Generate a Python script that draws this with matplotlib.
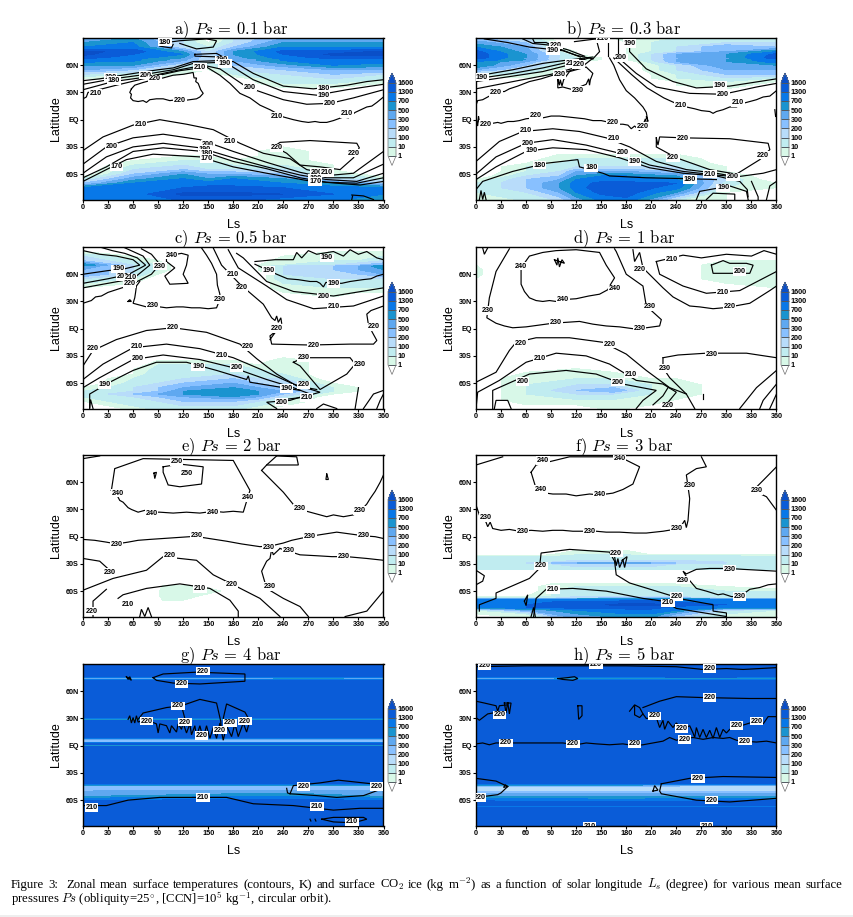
#%%
import numpy as np
import matplotlib
matplotlib.use('Agg')
import matplotlib.pyplot as plt
from matplotlib.cm import ScalarMappable
from matplotlib.colors import BoundaryNorm, ListedColormap

#%% colour scale (kg m-2)
ICE_LEVELS = [1, 10, 100, 200, 300, 500, 700, 1300, 1600]
ICE_LABELS = ['1', '10', '100', '200', '300', '500', '700', '1300', '1600']
ICE_COLORS = ['#d8f8e8', '#c0ecf0', '#b8dcfa', '#88c0ff', '#5fa8f0', '#1a94d0', '#0878e8', '#0a5cd8']
ICE_OVER = '#0a4fc8'
LS_TICKS = list(range(0, 361, 30))
LAT_TICKS = [60, 30, 0, -30, -60]
LAT_LABELS = ['60N', '30N', 'EQ', '30S', '60S']

#%% panel a
TITLE_A = r'a) $Ps$ = 0.1 bar'
LS_A = [0, 60, 120, 150, 180, 240, 300, 360]
LAT_A = [90, 85, 80, 75, 72, 68, 67, 66, 65, 60, 55, 50, 45, 40, 35, 30, -25, -30, -35, -40, -45, -50, -55, -60, -65, -70, -75, -82, -90]
ICE_A = [[500, 500, 100, 0, 100, 300, 500, 500],
         [500, 700, 100, 1, 100, 500, 500, 500],
         [700, 1000, 100, 10, 200, 700, 700, 700],
         [1700, 1500, 500, 100, 500, 1400, 1400, 1700],
         [1700, 1300, 700, 100, 500, 1300, 1700, 1700],
         [1400, 1000, 500, 100, 400, 1000, 1400, 1400],
         [500, 500, 200, 50, 200, 500, 500, 500],
         [1300, 900, 400, 100, 300, 800, 1300, 1300],
         [1000, 800, 300, 100, 300, 700, 1300, 1000],
         [500, 500, 100, 10, 200, 400, 700, 600],
         [300, 200, 10, 1, 100, 200, 300, 300],
         [100, 10, 1, 0, 10, 100, 200, 100],
         [1, 1, 0, 0, 0, 100, 100, 10],
         [0, 1, 0, 0, 0, 10, 10, 1],
         [0, 0, 0, 0, 0, 1, 1, 0],
         [0, 0, 0, 0, 0, 0, 0, 0],
         [0, 0, 0, 0, 0, 0, 0, 0],
         [0, 0, 0, 0, 0, 1, 0, 0],
         [0, 0, 0, 0, 0, 10, 0, 0],
         [0, 0, 1, 1, 0, 10, 0, 0],
         [0, 1, 10, 10, 1, 10, 0, 0],
         [0, 10, 100, 50, 10, 10, 1, 0],
         [0, 100, 200, 100, 100, 100, 1, 0],
         [0, 200, 500, 300, 300, 200, 10, 0],
         [10, 400, 700, 500, 700, 500, 100, 10],
         [200, 700, 1000, 1000, 1000, 700, 500, 200],
         [700, 1000, 1300, 1400, 1400, 1300, 1000, 700],
         [700, 1000, 1700, 1700, 1700, 1600, 1300, 700],
         [700, 1000, 1300, 1300, 1300, 700, 700, 700]]
LINES_A = [
    [(0, 43), (20, 45), (40, 48), (68, 52), (90, 55), (108, 57), (132, 64), (160, 65), (180, 64), (204, 51), (240, 37), (276, 34), (316, 38), (340, 42), (360, 44)],
    [(0, 39), (36, 45), (68, 49), (108, 55), (132, 62), (160, 63), (176, 60), (204, 44), (240, 31), (280, 27), (316, 33), (360, 39)],
    [(0, 33), (36, 42), (76, 47), (116, 55), (144, 60), (164, 56), (196, 36), (240, 22), (268, 17), (296, 18), (324, 24), (360, 33)],
    [(0, 23), (4, 25), (6, 30), (40, 38), (72, 45), (116, 54), (148, 58), (164, 49), (176, 40), (188, 29), (200, 24), (212, 16), (224, 11), (232, 7), (240, 3), (252, 0), (262, -2), (270, -3), (278, -2), (284, -3), (292, -3), (300, -1), (312, 3), (318, 2), (326, 8), (340, 14), (346, 15), (352, 19), (360, 25)],
    [(58, 34), (62, 38), (72, 41), (84, 44), (96, 46), (108, 49), (120, 50), (132, 52), (133, 46), (136, 46), (135, 42), (138, 40), (141, 33), (144, 29), (140, 25), (136, 23), (128, 22), (120, 21), (112, 22), (104, 21), (96, 23), (88, 23), (80, 22), (76, 19), (72, 21), (66, 20), (60, 21), (57, 24), (58, 28), (56, 30), (58, 34)],
    [(92, 84), (116, 87), (148, 89), (160, 87), (156, 80), (136, 78), (116, 84)],
    [(92, 81), (106, 79), (108, 83)],
    [(134, 72), (160, 73), (168, 69), (134, 70), (134, 72)],
    [(322, -83), (336, -84), (348, -88)],
    [(322, -88), (323, -84)],
    [(0, -34), (24, -19), (60, -6), (92, 0), (124, -5), (156, -11), (188, -26), (216, -37), (248, -43), (268, -55), (300, -61), (324, -59), (360, -35)],
    [(0, -49), (28, -30), (60, -20), (96, -16), (140, -22), (180, -35), (220, -47), (260, -58), (292, -64), (324, -64), (360, -49)],
    [(0, -59), (28, -41), (60, -30), (96, -26), (140, -31), (180, -42), (220, -52), (260, -61), (292, -66), (328, -68), (360, -59)],
    [(0, -64), (28, -52), (60, -35), (96, -31), (144, -35), (180, -46), (220, -54), (260, -64), (292, -69), (328, -70), (360, -64)],
    [(0, -68), (28, -55), (52, -44), (84, -38), (140, -41), (180, -52), (220, -59), (268, -67), (304, -70), (332, -72), (360, -68)],
    [(228, -30), (236, -25), (272, -23), (328, -26), (331, -31), (324, -42), (308, -55), (284, -52), (260, -50), (244, -37), (236, -33), (228, -30)],
]
LABELS_A = [(98, 85.5, '180'), (166, 66, '190'), (170, 62, '190'), (140, 58, '210'), (33, 47, '190'), (37, 43, '180'), (75, 49, '200'), (86, 45, '220'), (15, 29, '210'), (200, 36, '200'), (116, 21, '220'),
            (288, 34, '180'), (288, 27, '190'), (296, 18, '200'), (316, 7, '210'), (232, 4, '210'), (69, -5, '210'), (176, -24, '210'), (34, -30, '200'), (150, -27, '200'), (146, -33, '190'), (148, -37, '180'), (148, -43, '170'), (40, -52, '170'),
            (232, -31, '220'), (324, -37, '220'), (280, -58, '200'), (292, -58, '210'), (278, -65, '190'), (278, -68, '170')]

#%% panel b
TITLE_B = r'b) $Ps$ = 0.3 bar'
LS_B = [0, 60, 100, 120, 150, 180, 240, 300, 360]
LAT_B = [90, 85, 80, 75, 72, 68, 67, 66, 64, 60, 55, 50, 46, 42, 38, 34, 30, -28, -33, -38, -43, -48, -52, -57, -62, -66, -70, -75, -80, -90]
ICE_B = [[200, 100, 0, 0, 0, 10, 10, 100, 100],
         [400, 200, 1, 0, 0, 1, 100, 100, 100],
         [700, 300, 1, 0, 0, 1, 100, 300, 200],
         [1400, 400, 10, 1, 0, 1, 100, 300, 700],
         [1500, 500, 100, 1, 1, 1, 300, 500, 1400],
         [1500, 500, 100, 10, 1, 1, 300, 500, 1500],
         [500, 300, 50, 5, 1, 1, 200, 300, 500],
         [1300, 500, 100, 5, 1, 1, 300, 500, 1300],
         [700, 300, 10, 1, 1, 0, 300, 500, 1000],
         [700, 200, 10, 1, 0, 0, 100, 500, 500],
         [300, 100, 1, 0, 0, 0, 100, 300, 300],
         [10, 10, 1, 0, 0, 0, 10, 200, 200],
         [0, 1, 0, 0, 0, 0, 10, 100, 10],
         [0, 1, 0, 0, 0, 0, 1, 10, 1],
         [0, 0, 0, 0, 0, 0, 1, 10, 0],
         [0, 0, 0, 0, 0, 0, 0, 1, 0],
         [0, 0, 0, 0, 0, 0, 0, 0, 0],
         [0, 0, 0, 0, 0, 0, 0, 0, 0],
         [0, 0, 0, 0, 0, 0, 1, 0, 0],
         [0, 0, 1, 1, 1, 1, 1, 0, 0],
         [0, 0, 10, 10, 10, 10, 10, 0, 0],
         [0, 1, 10, 50, 50, 50, 100, 0, 0],
         [0, 10, 100, 100, 100, 100, 100, 1, 0],
         [0, 10, 100, 300, 300, 300, 200, 1, 0],
         [0, 100, 200, 500, 700, 700, 500, 10, 0],
         [1, 200, 300, 700, 1000, 1000, 700, 100, 0],
         [10, 200, 500, 1000, 1400, 1400, 1300, 50, 1],
         [10, 200, 500, 1000, 1500, 1500, 1000, 10, 1],
         [10, 100, 300, 700, 1400, 1500, 500, 1, 1],
         [1, 10, 100, 300, 700, 1000, 10, 1, 1]]
LINES_B = [
    [(0, 48), (44, 55), (80, 62), (104, 65), (140, 69)],
    [(0, 45), (44, 51), (80, 57), (104, 62), (130, 67)],
    [(0, 42), (44, 48), (80, 53), (110, 60), (135, 68)],
    [(0, 34), (50, 43), (90, 50), (110, 55), (130, 60)],
    [(0, 16), (2, 21), (8, 22), (18, 27), (26, 31), (34, 31), (40, 34), (50, 37), (64, 42), (78, 45), (92, 49), (110, 53), (128, 59), (139, 67)],
    [(98, 45), (100, 38), (101, 44), (103, 37), (105, 44), (112, 53), (132, 58), (140, 51), (137, 44), (136, 38), (135, 45), (132, 39), (116, 33), (104, 36), (98, 35), (98, 45)],
    [(10, 89), (38, 85), (64, 80), (84, 78), (104, 76), (120, 71), (140, 67)],
    [(56, 89), (68, 84), (90, 82), (110, 77), (130, 70)],
    [(68, 89), (70, 85), (84, 85), (100, 78), (125, 69)],
    [(118, 86), (144, 89), (148, 75), (140, 67)],
    [(158, 89), (158, 70)], [(170, 89), (170, 72)],
    [(160, 68), (165, 60), (172, 44), (180, 32), (190, 24), (200, 14), (204, 8), (206, -2), (204, 3)],
    [(165, 68), (186, 50), (205, 35), (225, 24), (244, 16), (252, 14), (262, 12), (270, 10), (280, 9), (284, 7), (288, 9), (296, 11), (304, 14), (312, 14), (320, 18), (328, 20), (336, 22), (344, 25), (352, 26), (360, 32)],
    [(172, 67), (192, 51), (216, 36), (256, 29), (296, 28), (336, 36), (360, 40)],
    [(184, 88), (184, 75), (204, 56), (236, 42), (264, 35), (304, 37), (360, 45)],
    [(0, 3), (2, -7), (3, 4), (5, -8), (8, -5), (14, -6), (20, -4), (26, -3), (30, -4), (38, -2), (45, -2), (52, -1), (60, 1), (70, 2), (80, 2), (90, 4), (100, 4), (110, 3), (120, 2), (130, 1), (140, -1), (150, -1), (160, -3), (170, -5), (176, -5), (182, -6), (186, -10), (190, -7), (196, -12), (200, -6), (203, 1), (205, -8)],
    [(358, 11), (359, 3), (360, 6)],
    [(0, -46), (28, -24), (56, -13), (92, -10), (124, -13), (156, -20), (184, -30), (216, -46), (252, -55), (288, -59), (312, -63), (344, -59), (360, -55)],
    [(0, -60), (24, -41), (60, -26), (92, -22), (132, -28), (172, -37), (208, -50), (248, -57), (288, -61), (312, -63)],
    [(0, -66), (24, -52), (60, -35), (92, -31), (132, -33), (172, -42), (208, -53), (248, -59), (288, -62), (316, -68), (325, -77), (326, -85)],
    [(0, -77), (8, -68), (44, -57), (84, -48), (122, -44), (124, -52), (152, -59), (160, -62), (204, -64), (252, -65), (288, -66)],
    [(216, -20), (218, -28), (220, -19), (248, -20), (304, -21), (350, -26), (352, -33), (340, -44), (312, -60), (280, -55), (240, -42), (216, -30), (216, -20)],
    [(330, -68), (338, -85), (338, -88)], [(348, -88), (352, -73), (360, -68)],
    [(264, -88), (268, -79), (304, -73), (324, -79), (326, -88)],
    [(276, -88), (284, -81), (310, -82), (310, -88)],
    [(4, -88), (6, -78), (8, -88), (10, -80), (12, -88)],
]
LABELS_B = [(96, 82, '220'), (92, 76, '190'), (115, 62, '210'), (123, 61, '220'), (100, 50, '230'), (122, 32, '230'), (24, 30, '220'), (7, 47, '190'), (174, 68, '200'), (184, 84, '190'), (152, 89, '210'),
            (292, 38, '190'), (296, 28, '200'), (314, 19, '210'), (245, 16, '210'), (72, 5, '220'), (12, -5, '220'), (164, -3, '220'), (200, -7, '220'), (60, -12, '210'), (165, -21, '210'), (62, -26, '200'), (66, -34, '190'), (176, -36, '200'), (190, -46, '190'), (76, -50, '180'), (138, -53, '180'),
            (248, -21, '220'), (236, -42, '220'), (344, -39, '220'), (280, -60, '210'), (308, -63, '200'), (256, -66, '180'), (296, -75, '190')]

#%% panel c
TITLE_C = r'c) $Ps$ = 0.5 bar'
LS_C = [0, 60, 90, 120, 180, 210, 240, 300, 330, 360]
LAT_C = [90, 85, 80, 75, 70, 69, 65, 60, 55, 50, 45, 40, 35, 30, -28, -32, -35, -40, -45, -50, -55, -60, -65, -69, -72, -75, -80, -85, -90]
ICE_C = [[0, 0, 0, 0, 0, 0, 0, 0, 0, 0],
         [1, 0, 0, 0, 0, 0, 1, 1, 1, 1],
         [100, 1, 1, 0, 0, 0, 1, 10, 10, 10],
         [200, 10, 1, 0, 0, 0, 10, 10, 10, 100],
         [700, 100, 10, 0, 0, 1, 10, 100, 200, 300],
         [500, 100, 10, 0, 0, 1, 100, 200, 300, 700],
         [300, 100, 10, 0, 0, 1, 100, 200, 300, 500],
         [300, 100, 1, 0, 0, 0, 100, 200, 200, 300],
         [100, 10, 0, 0, 0, 0, 100, 100, 100, 100],
         [10, 1, 0, 0, 0, 0, 10, 100, 100, 50],
         [1, 0, 0, 0, 0, 0, 10, 10, 10, 10],
         [0, 0, 0, 0, 0, 0, 1, 10, 1, 1],
         [0, 0, 0, 0, 0, 0, 0, 1, 0, 0],
         [0, 0, 0, 0, 0, 0, 0, 0, 0, 0],
         [0, 0, 0, 0, 0, 0, 0, 0, 0, 0],
         [0, 0, 0, 0, 0, 0, 1, 0, 0, 0],
         [0, 0, 1, 1, 1, 0, 10, 0, 0, 0],
         [0, 0, 10, 10, 10, 1, 10, 0, 0, 0],
         [0, 1, 50, 50, 50, 10, 10, 0, 0, 0],
         [0, 1, 100, 100, 100, 50, 10, 0, 0, 0],
         [0, 10, 100, 100, 200, 100, 100, 0, 0, 0],
         [0, 50, 100, 200, 300, 200, 200, 1, 0, 0],
         [1, 100, 200, 300, 500, 300, 200, 10, 1, 0],
         [10, 100, 200, 500, 700, 500, 300, 10, 1, 0],
         [10, 200, 300, 500, 700, 500, 200, 1, 1, 0],
         [10, 100, 200, 300, 500, 300, 100, 0, 0, 0],
         [1, 100, 100, 200, 200, 100, 10, 0, 0, 0],
         [0, 10, 50, 100, 100, 10, 1, 0, 0, 0],
         [0, 1, 10, 10, 10, 1, 0, 0, 0, 0]]
LINES_C = [
    [(0, 60), (30, 64), (50, 66), (68, 70), (60, 76), (40, 80), (20, 82), (0, 86)],
    [(0, 50), (30, 55), (55, 60), (75, 70), (65, 78), (50, 83), (35, 86), (20, 90)],
    [(0, 45), (30, 50), (60, 55), (80, 70), (72, 80), (60, 85), (48, 90)],
    [(0, 28), (10, 31), (15, 35), (22, 36), (30, 40), (50, 46), (65, 52), (82, 60), (92, 71), (82, 82), (70, 88)],
    [(100, 80), (118, 83), (126, 81), (124, 70), (120, 60), (126, 50), (104, 49), (98, 58), (110, 67), (100, 74), (100, 80)],
    [(54, 30), (56, 32), (58, 30), (54, 30)],
    [(68, 52), (64, 47), (63, 40), (62, 34), (60, 28), (68, 26), (76, 24), (84, 25), (92, 24), (100, 23), (112, 24), (120, 24), (130, 23), (140, 23), (150, 22), (160, 23), (163, 30), (164, 38), (161, 48), (160, 60), (154, 72), (148, 81), (142, 89)],
    [(156, 89), (166, 70), (188, 49), (216, 27), (226, 12), (230, 9), (232, 14), (234, 7), (237, 12), (238, 6)],
    [(224, -12), (232, -2), (224, -8), (226, -17), (272, -18), (320, -17), (348, -17), (352, -13), (346, -3), (345, 4), (343, -2), (340, 16), (345, 20), (360, 25)],
    [(174, 87), (186, 67), (220, 47), (244, 32), (276, 22), (324, 25), (360, 36)],
    [(184, 83), (192, 78), (220, 52), (252, 41), (300, 36), (360, 45)],
    [(206, 74), (230, 76), (252, 76), (256, 84), (262, 78), (270, 86), (280, 82), (300, 85), (312, 80), (320, 87), (330, 82), (340, 85), (352, 78), (360, 76)],
    [(206, 71), (220, 65), (232, 60), (245, 55), (258, 54), (272, 52), (280, 52), (284, 50), (288, 46), (291, 51), (300, 50), (310, 50), (320, 52), (335, 54), (345, 55), (352, 58), (360, 60)],
    [(0, -41), (12, -24), (40, -12), (76, -2), (108, 1), (148, -4), (188, -17), (208, -33), (232, -50), (256, -63), (280, -67)],
    [(0, -56), (24, -39), (60, -21), (100, -17), (140, -22), (180, -32), (216, -46), (252, -61), (284, -70), (260, -76), (232, -79)],
    [(0, -65), (20, -54), (60, -34), (96, -29), (140, -34), (180, -43), (220, -56), (252, -65), (272, -72), (248, -79), (220, -81), (232, -88)],
    [(8, -87), (8, -72), (32, -59), (60, -46), (88, -37), (124, -37), (160, -46), (196, -56), (198, -52), (200, -59), (240, -65), (260, -68)],
    [(252, -37), (264, -32), (320, -32), (326, -39), (316, -50), (284, -67), (272, -54), (260, -41), (252, -37)],
    [(330, -65), (326, -88)], [(336, -88), (348, -72), (360, -68)], [(352, -88), (356, -79), (360, -72)],
    [(8, -88), (9, -78), (12, -88)],
    [(280, -88), (288, -83), (304, -88)],
]
LABELS_C = [(42, 66, '190'), (48, 57, '200'), (57, 56, '210'), (56, 50, '220'), (92, 69, '230'), (106, 81, '240'), (84, 25, '230'), (164, 32, '230'), (180, 60, '210'), (190, 45, '220'), (222, 64, '190'), (292, 78, '190'), (300, 50, '190'), (288, 35, '200'), (300, 24, '210'),
            (12, -22, '220'), (108, 1, '220'), (198, -20, '220'), (232, 0, '220'), (348, 2, '220'), (276, -18, '220'), (64, -20, '210'), (166, -30, '210'), (66, -33, '200'), (184, -43, '200'), (138, -42, '190'), (26, -62, '190'), (264, -32, '230'), (332, -39, '230'), (244, -66, '190'), (264, -62, '220'), (268, -76, '210'), (238, -81, '200')]

#%% panel d
TITLE_D = r'd) $Ps$ = 1 bar'
LS_D = [0, 15, 30, 60, 120, 165, 210, 240, 270, 300, 360]
LAT_D = [90, 75, 70, 65, 60, 55, 50, 45, 40, -40, -44, -48, -55, -62, -68, -72, -78, -84, -90]
ICE_D = [[0, 0, 0, 0, 0, 0, 0, 0, 0, 0, 0],
         [0, 0, 0, 0, 0, 0, 0, 0, 0, 1, 1],
         [1, 0, 0, 0, 0, 0, 0, 0, 1, 10, 10],
         [10, 0, 0, 0, 0, 0, 0, 1, 1, 10, 10],
         [10, 0, 0, 0, 0, 0, 0, 0, 1, 10, 10],
         [1, 0, 0, 0, 0, 0, 0, 0, 1, 10, 10],
         [1, 0, 0, 0, 0, 0, 0, 0, 0, 1, 10],
         [0, 0, 0, 0, 0, 0, 0, 0, 0, 0, 1],
         [0, 0, 0, 0, 0, 0, 0, 0, 0, 0, 0],
         [0, 0, 0, 0, 0, 0, 0, 0, 0, 0, 0],
         [0, 0, 0, 0, 1, 0, 0, 0, 0, 0, 0],
         [0, 0, 0, 1, 10, 1, 0, 0, 0, 0, 0],
         [0, 0, 1, 10, 10, 10, 1, 1, 0, 0, 0],
         [0, 0, 1, 10, 100, 100, 10, 10, 1, 0, 0],
         [0, 0, 1, 10, 200, 300, 10, 10, 1, 0, 0],
         [0, 0, 1, 10, 100, 100, 10, 10, 1, 0, 0],
         [0, 0, 1, 10, 10, 10, 10, 1, 0, 0, 0],
         [0, 0, 0, 1, 1, 10, 1, 0, 0, 0, 0],
         [0, 0, 0, 0, 1, 1, 0, 0, 0, 0, 0]]
LINES_D = [
    [(54, 67), (64, 80), (80, 84), (96, 86), (120, 87), (148, 84), (156, 70), (166, 56), (160, 47), (158, 43), (148, 38), (135, 36), (120, 33), (104, 32), (96, 30), (88, 31), (80, 30), (72, 31), (64, 34), (58, 41), (54, 49), (54, 67)],
    [(40, 88), (24, 63), (16, 34), (13, 12), (24, 6), (34, 3), (44, 1), (60, 2), (76, 4), (92, 6), (108, 7), (124, 8), (140, 5), (156, 3), (172, 2), (188, 0), (204, 1), (220, 3), (222, 10), (204, 25), (200, 47), (180, 60), (168, 85), (166, 88)],
    [(188, 87), (190, 74), (196, 84), (200, 67), (212, 56), (224, 45), (236, 35), (246, 30), (256, 25), (268, 24), (284, 22), (296, 23), (304, 24), (316, 26), (328, 28), (340, 35), (352, 42), (360, 47)],
    [(216, 74), (220, 60), (248, 47), (276, 39), (316, 42), (360, 63)],
    [(216, 74), (248, 81), (270, 78), (300, 82), (330, 80), (345, 86), (360, 82)],
    [(282, 70), (284, 61), (328, 61), (332, 70), (324, 72), (304, 72), (296, 75), (282, 70)],
    [(0, -59), (24, -48), (40, -24), (48, -15), (72, -10), (112, -10), (152, -15), (180, -28), (204, -46), (232, -65), (252, -72)],
    [(0, -88), (2, -70), (28, -57), (60, -37), (96, -27), (132, -30), (160, -39), (192, -57), (224, -61), (240, -70), (224, -88)],
    [(20, -88), (20, -68), (64, -50), (108, -46), (144, -50), (176, -61), (216, -68), (200, -79), (192, -88)],
    [(212, -84), (224, -74), (230, -65)],
    [(224, -32), (242, -29), (276, -27), (324, -27), (360, -32)],
    [(224, -32), (224, -43), (232, -54), (252, -72), (262, -88)],
    [(316, -88), (336, -65), (360, -46)], [(340, -88), (344, -79), (360, -61)], [(352, -88), (360, -72)],
    [(22, -88), (24, -79), (38, -79), (42, -88)],
    [(94, 76), (97, 70), (98, 78), (100, 68), (103, 76), (106, 72), (94, 76)],
    [(8, 89), (10, 82), (14, 89)],
    [(272, -72), (272, -77)],
]
LABELS_D = [(54, 69, '240'), (166, 44, '240'), (104, 32, '240'), (14, 20, '230'), (96, 7, '230'), (196, 0, '230'), (208, 24, '230'), (196, 65, '220'), (304, 24, '220'), (235, 76, '210'), (296, 40, '210'), (316, 63, '200'),
            (54, -16, '220'), (160, -17, '220'), (76, -33, '210'), (186, -50, '210'), (56, -58, '200'), (170, -59, '200'), (226, -44, '230'), (282, -28, '230'), (230, -85, '220')]

#%% panel e
TITLE_E = r'e) $Ps$ = 2 bar'
LS_E = [0, 85, 95, 120, 140, 165, 360]
LAT_E = [90, -50, -54, -60, -65, -70, -74, -90]
ICE_E = [[0, 0, 0, 0, 0, 0, 0],
         [0, 0, 0, 0, 0, 0, 0],
         [0, 0, 1, 2, 1, 0, 0],
         [0, 0, 5, 5, 5, 1, 0],
         [0, 0, 5, 5, 1, 0, 0],
         [0, 0, 1, 1, 0, 0, 0],
         [0, 0, 0, 0, 0, 0, 0],
         [0, 0, 0, 0, 0, 0, 0]]
LINES_E = [
    [(96, 77), (116, 80), (144, 77), (142, 58), (116, 55), (102, 57), (96, 71), (96, 77)],
    [(34, 51), (38, 75), (72, 86), (180, 84), (200, 51), (192, 27), (180, 28), (168, 27), (156, 28), (140, 26), (124, 27), (108, 26), (92, 27), (84, 27), (74, 29), (66, 27), (58, 30), (54, 32), (48, 38), (44, 40), (40, 47), (34, 51)],
    [(0, 82), (0, 86), (20, 89)],
    [(214, 73), (220, 79), (232, 89)], [(232, 89), (256, 88), (258, 79), (236, 79), (220, 79)],
    [(214, 73), (240, 49), (256, 31), (268, 28), (280, 25), (292, 22), (300, 24), (312, 22), (324, 24), (334, 30), (340, 36), (344, 42), (350, 50), (356, 60), (360, 68)],
    [(0, -3), (14, -4), (28, -6), (40, -8), (54, -6), (66, -4), (80, -3), (96, -2), (112, -1), (128, 0), (144, -1), (158, -3), (172, -5), (190, -8), (212, -11), (226, -10), (240, -7), (250, -4), (260, -2), (276, 1), (290, 3), (304, 5), (320, 3), (336, 1), (350, 0), (360, -2)],
    [(0, -24), (20, -27), (32, -37)],
    [(236, -13), (260, -20), (280, -21), (298, -22), (316, -22), (340, -24), (360, -26)],
    [(236, -13), (228, -20), (226, -14), (224, -24), (220, -27), (214, -38), (220, -57), (240, -68), (260, -77), (270, -88)],
    [(0, -59), (36, -46), (76, -37), (96, -22), (136, -26), (156, -42), (180, -53), (212, -68), (236, -88)],
    [(12, -88), (12, -71), (28, -58)],
    [(42, -68), (48, -64), (76, -57), (116, -52), (152, -57), (176, -70), (186, -82), (186, -88)],
    [(314, -88), (340, -82), (360, -60)],
    [(292, 69), (294, 63), (291, 63), (292, 69)],
    [(85, 70), (86, 64), (88, 71), (85, 70)],
    [(68, -88), (70, -80), (74, -88), (78, -78), (82, -88)],
]
LABELS_E = [(112, 83, '250'), (124, 70, '250'), (42, 48, '240'), (198, 43, '240'), (82, 26, '240'), (156, 27, '240'), (260, 31, '230'), (332, 29, '230'), (40, -9, '230'), (136, 1, '230'), (222, -12, '230'), (246, -15, '230'), (272, 0, '230'), (336, 1, '230'), (312, -22, '230'),
            (32, -39, '230'), (224, -55, '230'), (104, -21, '220'), (178, -53, '220'), (10, -82, '220'), (54, -75, '210'), (140, -57, '210')]

#%% panel f
TITLE_F = r'f) $Ps$ = 3 bar'
LS_F = [0, 60, 90, 120, 180, 210, 240, 300, 360]
LAT_F = [90, -5, -8, -15, -20, -22, -26, -28, -29, -30, -33, -36, -37, -47, -52, -55, -60, -66, -68, -69, -72, -75, -78, -81, -85, -90]
ICE_F = [[0, 0, 0, 0, 0, 0, 0, 0, 0],
         [0, 0, 0, 0, 0, 0, 0, 0, 0],
         [0, 0, 0, 1, 1, 1, 0, 0, 0],
         [0, 0, 1, 1, 1, 1, 1, 1, 1],
         [0, 0, 1, 10, 10, 1, 1, 1, 1],
         [10, 10, 10, 100, 100, 100, 100, 100, 10],
         [100, 100, 100, 100, 100, 100, 100, 100, 100],
         [100, 100, 100, 200, 200, 200, 200, 100, 100],
         [100, 100, 200, 300, 400, 300, 200, 100, 100],
         [100, 100, 100, 200, 200, 200, 100, 100, 100],
         [100, 100, 100, 100, 100, 100, 100, 100, 100],
         [10, 10, 10, 10, 10, 10, 10, 10, 10],
         [0, 0, 0, 0, 0, 0, 0, 0, 0],
         [0, 0, 0, 0, 0, 0, 0, 0, 0],
         [0, 0, 1, 1, 1, 1, 1, 0, 0],
         [0, 0, 10, 10, 10, 10, 10, 1, 0],
         [0, 0, 10, 100, 100, 100, 100, 10, 10],
         [1, 1, 10, 100, 100, 100, 100, 100, 100],
         [100, 100, 100, 200, 300, 300, 300, 100, 100],
         [700, 700, 700, 700, 700, 700, 700, 700, 700],
         [1300, 1300, 1300, 1400, 1500, 1500, 1300, 1000, 1000],
         [1300, 1300, 1500, 1500, 1700, 1700, 1500, 1300, 1300],
         [700, 1300, 1400, 1400, 1500, 1500, 1000, 700, 700],
         [10, 300, 500, 700, 1000, 1000, 700, 100, 10],
         [1, 10, 300, 500, 700, 700, 300, 10, 10],
         [0, 1, 100, 300, 500, 500, 100, 10, 10]]
LINES_F = [
    [(66, 71), (72, 79), (112, 88), (172, 88), (196, 77), (188, 58), (176, 52), (164, 48), (148, 46), (136, 47), (120, 45), (108, 47), (92, 47), (84, 48), (72, 53), (66, 71)],
    [(0, 79), (32, 88)],
    [(0, 35), (4, 24), (12, 16), (14, 11), (17, 16), (20, 9), (30, 7), (40, 8), (52, 6), (66, 7), (80, 6), (92, 7), (104, 7), (116, 6), (130, 6), (144, 6), (156, 5), (172, 5), (190, 4), (204, 4), (224, 6), (244, 9), (250, 18), (252, 10), (254, 18), (256, 42), (252, 68), (264, 75), (276, 77), (270, 88)],
    [(360, 77), (344, 62), (332, 51), (348, 44), (360, 29)],
    [(0, -37), (10, -43), (8, -49), (0, -53)],
    [(4, -82), (4, -75), (24, -68), (24, -62), (64, -46), (76, -35), (78, -18), (112, -14), (160, -17), (166, -27), (168, -42), (184, -51), (216, -60), (248, -69), (284, -75), (284, -82), (300, -84), (300, -88)],
    [(166, -22), (168, -32), (170, -24), (172, -34), (176, -25), (178, -34), (181, -22), (175, -26)],
    [(69, -88), (72, -68), (84, -58), (116, -57), (156, -60), (200, -68), (224, -71), (240, -79), (300, -88)],
    [(66, -88), (69, -78), (71, -88)],
    [(58, -71), (62, -64), (60, -76), (58, -71)],
    [(252, -44), (248, -38), (252, -41), (264, -36), (280, -35), (304, -35), (320, -36), (340, -37), (360, -38)],
    [(252, -44), (264, -57), (276, -60), (290, -64), (296, -63), (306, -66), (316, -66), (322, -62), (328, -58), (340, -56), (350, -53), (360, -52)],
]
LABELS_F = [(80, 84, '240'), (172, 86, '240'), (78, 52, '240'), (148, 47, '240'), (256, 56, '230'), (336, 51, '230'), (12, 21, '230'), (56, 6, '230'), (136, 6, '230'), (240, 9, '230'), (78, -32, '220'), (168, -18, '220'), (248, -48, '230'), (304, -36, '230'), (316, -66, '230'), (240, -66, '220'), (92, -58, '210'), (230, -73, '210')]

#%% panel g
TITLE_G = r'g) $Ps$ = 4 bar'
LS_G = [0, 180, 270, 360]
LAT_G = [90, 76, 75, 74, 73, 71, 31, 29, 27, 9, 7, 6, 4, 3, 2, 1, 0, -1, -42, -44, -47, -50, -53, -56, -59, -62, -90]
ICE_G = [[1400, 1400, 1400, 1400],
         [1400, 1400, 1400, 1400],
         [500, 500, 700, 500],
         [200, 200, 300, 200],
         [700, 700, 1000, 700],
         [1400, 1400, 1400, 1400],
         [1400, 1400, 1400, 1400],
         [300, 300, 300, 300],
         [1400, 1400, 1400, 1400],
         [1400, 1400, 1400, 1400],
         [300, 300, 300, 300],
         [200, 200, 200, 200],
         [300, 300, 300, 300],
         [700, 700, 700, 700],
         [1400, 1400, 1400, 1400],
         [700, 700, 700, 700],
         [300, 300, 300, 300],
         [1400, 1400, 1400, 1400],
         [1400, 1400, 1400, 1400],
         [300, 300, 300, 300],
         [200, 200, 200, 200],
         [300, 400, 400, 300],
         [300, 500, 500, 300],
         [500, 700, 700, 500],
         [1000, 1300, 1300, 1000],
         [1400, 1400, 1400, 1400],
         [1400, 1400, 1400, 1400]]
LINES_G = [
    [(84, 75), (96, 79), (136, 81), (194, 79), (194, 71), (140, 68), (108, 69), (88, 72), (84, 75)],
    [(52, 76), (54, 73), (56, 76), (58, 72), (52, 76)],
    [(66, 29), (72, 36), (100, 42), (118, 44), (122, 30), (124, 22)],
    [(118, 44), (140, 51), (160, 47), (165, 27), (166, 15)],
    [(168, 30), (172, 46), (194, 37), (200, 27)],
    [(54, 29), (56, 33), (58, 25), (60, 31), (62, 25), (64, 33), (66, 26), (72, 28), (80, 27), (88, 24), (90, 14), (92, 24), (100, 22), (104, 14), (106, 22), (112, 15), (114, 24), (118, 18), (120, 25), (124, 14), (128, 24), (130, 12), (134, 22), (136, 10), (140, 22), (144, 8), (148, 22), (152, 8), (156, 20), (160, 8), (164, 25), (168, 6), (172, 22), (178, 10), (182, 24), (186, 10), (192, 25), (196, 15), (200, 28)],
    [(244, -47), (245, -52), (248, -53), (280, -55), (304, -57), (336, -55), (360, -47)],
    [(248, -53), (252, -44), (284, -41), (306, -38), (346, -42), (360, -47)],
    [(0, -66), (28, -66), (54, -60), (92, -57), (172, -57), (204, -64), (252, -66), (300, -71), (332, -69), (360, -69)],
    [(286, -81), (300, -79), (336, -79), (340, -81), (324, -85), (300, -84), (286, -81)],
    [(272, -81), (273, -83)], [(278, -81), (279, -83)],
]
LABELS_G = [(144, 82, '220'), (118, 68, '220'), (114, 44, '220'), (76, 27, '220'), (122, 26, '220'), (176, 25, '220'), (194, 27, '220'), (164, 17, '220'), (142, 11, '220'), (264, -45, '220'), (352, -45, '220'), (144, -57, '210'), (10, -68, '210'), (280, -67, '210'), (322, -84, '210')]

#%% panel h
TITLE_H = r'h) $Ps$ = 5 bar'
LS_H = [0, 180, 270, 360]
LAT_H = [90, 76, 75, 74, 73, 71, 46, 45, 44, 23, 22, 21, 1, 0, -1, -42, -44, -47, -50, -53, -56, -59, -62, -66, -67, -68, -90]
ICE_H = [[1400, 1400, 1400, 1400],
         [1400, 1400, 1400, 1400],
         [700, 700, 1000, 700],
         [200, 300, 500, 300],
         [700, 1000, 1000, 1000],
         [1400, 1400, 1400, 1400],
         [1400, 1400, 1400, 1400],
         [700, 700, 700, 1000],
         [1400, 1400, 1400, 1400],
         [1400, 1400, 1400, 1400],
         [1000, 1000, 1000, 1000],
         [1400, 1400, 1400, 1400],
         [1400, 1400, 1400, 1400],
         [1000, 1000, 1000, 1000],
         [1400, 1400, 1400, 1400],
         [1400, 1400, 1400, 1400],
         [300, 300, 200, 200],
         [100, 100, 100, 100],
         [200, 200, 200, 200],
         [300, 300, 300, 300],
         [500, 500, 500, 500],
         [1000, 700, 1000, 1000],
         [1400, 1300, 1400, 1400],
         [1400, 1400, 1400, 1400],
         [1000, 1000, 1000, 1000],
         [1400, 1400, 1400, 1400],
         [1400, 1400, 1400, 1400]]
LINES_H = [
    [(0, 87), (60, 88), (104, 88), (180, 88), (240, 87), (272, 84), (300, 85), (320, 84), (360, 86)],
    [(98, 74), (110, 75), (118, 76), (122, 74), (116, 72), (104, 73), (98, 74)],
    [(0, 49), (10, 47), (24, 44), (26, 38), (28, 44), (38, 45)],
    [(0, 31), (4, 28), (14, 35), (26, 37)],
    [(34, 47), (36, 36), (38, 48), (40, 35), (42, 47), (34, 47)],
    [(122, 44), (127, 44), (127, 33), (123, 29), (122, 44)],
    [(184, 38), (190, 45), (196, 42), (200, 35), (196, 31), (190, 34), (190, 44)],
    [(200, 35), (204, 30), (216, 31), (220, 20), (224, 28), (226, 18), (230, 27), (236, 20), (240, 25), (248, 18), (256, 22), (260, 14), (262, 9), (264, 20), (268, 9), (272, 18), (276, 9), (280, 17), (284, 8), (288, 20), (292, 9), (296, 18), (300, 14), (304, 18), (328, 25), (340, 27), (344, 24), (350, 32), (360, 32)],
    [(200, 42), (220, 49), (240, 54), (272, 53), (328, 52), (360, 52)],
    [(0, 2), (8, 3), (16, 1), (24, 3), (40, 3), (56, 3), (72, 3), (88, 3), (104, 3), (120, 1), (132, 3), (144, 2), (160, 1), (176, 2), (190, 0), (200, 1), (212, 3), (224, 5), (232, 9), (240, 6), (250, 8), (260, 9), (272, 7), (284, 9), (296, 8), (304, 9), (312, 6), (320, 5), (336, 4), (348, 5), (360, 3)],
    [(0, -36), (24, -39), (38, -45), (30, -52), (26, -54), (0, -57)],
    [(38, -45), (35, -43), (33, -46), (38, -45)],
    [(212, -50), (214, -44), (218, -49), (212, -50)],
    [(222, -42), (256, -36), (296, -34), (360, -35)],
    [(222, -42), (220, -50), (222, -53), (264, -60), (304, -62), (360, -58)],
    [(144, -88), (170, -88), (204, -88)],
]
LABELS_H = [(10, 88, '220'), (144, 89, '220'), (280, 85, '220'), (280, 53, '220'), (28, 34, '220'), (214, 33, '220'), (246, 19, '220'), (250, 7, '220'), (312, 22, '220'), (336, 27, '220'), (322, 5, '220'), (36, 3, '220'), (116, 2, '220'), (190, 2, '220'), (4, -57, '220'), (266, -36, '220'), (282, -60, '220'), (136, -89, '210'), (276, -89, '210')]

#%% caption
CAPTION_1 = ['Figure', '3:', '', 'Zonal', 'mean', 'surface', 'temperatures', '(contours,', 'K)', 'and', 'surface', r'CO$_2$', 'ice', r'(kg', r'm$^{-2}$)', 'as', 'a', 'function', 'of', 'solar', 'longitude', r'$L_s$', '(degree)', 'for', 'various', 'mean', 'surface']
CAPTION_2 = r'pressures $Ps$ (obliquity=25$^{\circ}$, [CCN]=10$^5$ kg$^{-1}$, circular orbit).'

PANELS = [(TITLE_A, LS_A, LAT_A, ICE_A, LINES_A, LABELS_A),
          (TITLE_B, LS_B, LAT_B, ICE_B, LINES_B, LABELS_B),
          (TITLE_C, LS_C, LAT_C, ICE_C, LINES_C, LABELS_C),
          (TITLE_D, LS_D, LAT_D, ICE_D, LINES_D, LABELS_D),
          (TITLE_E, LS_E, LAT_E, ICE_E, LINES_E, LABELS_E),
          (TITLE_F, LS_F, LAT_F, ICE_F, LINES_F, LABELS_F),
          (TITLE_G, LS_G, LAT_G, ICE_G, LINES_G, LABELS_G),
          (TITLE_H, LS_H, LAT_H, ICE_H, LINES_H, LABELS_H)]

#%%
W, H = 854, 917
plt.rcParams['font.family'] = ['Liberation Sans', 'DejaVu Sans']
plt.rcParams['mathtext.fontset'] = 'cm'
plt.rcParams['axes.unicode_minus'] = False


def px_axes(fig, left, top, width, height):
    ''' axes placed with pixel coordinates, top-left origin '''
    return fig.add_axes([left / W, 1 - (top + height) / H, width / W, height / H])


def to_index(values):
    ''' ice amounts to position on the (uneven) colour scale, so each band gets equal room '''
    xp = [0] + ICE_LEVELS + [2000]
    return np.interp(np.array(values, dtype=float), xp, np.arange(-1, len(ICE_LEVELS) + 1))


def draw_panel(fig, left, top, panel):
    title, ls, lat, ice, lines, labels = panel
    ax = px_axes(fig, left, top, 300.5, 162)
    order = np.argsort(lat)
    z = to_index(ice)[order]
    ax.contourf(ls, np.array(lat)[order], z, levels=np.arange(len(ICE_LEVELS) + 1),
                colors=ICE_COLORS + [ICE_OVER])
    for line in lines:
        xy = np.array(line)
        ax.plot(xy[:, 0], xy[:, 1], color='black', lw=0.85, solid_joinstyle='miter')
    for x, y, txt in labels:
        ax.text(x, y, txt, fontsize=5.2, fontweight='bold', ha='center', va='center', clip_on=True,
                bbox=dict(facecolor='white', edgecolor='none', pad=0.5))
    ax.set_xlim(0, 360)
    ax.set_ylim(-88.5, 90)
    ax.set_xticks(LS_TICKS)
    ax.set_yticks(LAT_TICKS)
    ax.set_yticklabels(LAT_LABELS)
    ax.tick_params(length=2, width=0.8, pad=1, labelsize=5.2)
    for lab in ax.get_xticklabels() + ax.get_yticklabels():
        lab.set_fontweight('bold')
    for sp in ax.spines.values():
        sp.set_linewidth(1)
    ax.set_xlabel('Ls', fontsize=9, va='top')
    ax.xaxis.set_label_coords(0.5, -0.115)
    ax.set_ylabel('Latitude', fontsize=9, va='center')
    ax.yaxis.set_label_coords(-0.09, 0.5)
    ax.text(0.492, 1.025, title, transform=ax.transAxes, fontsize=11.9, family='cmr10',
            ha='center', va='baseline')

    cax = px_axes(fig, left + 305, top + 35, 8, 92.5)
    cmap = ListedColormap(ICE_COLORS)
    cmap.set_over(ICE_OVER)
    cmap.set_under('white')
    norm = BoundaryNorm(np.arange(len(ICE_LEVELS)), len(ICE_COLORS))
    cb = fig.colorbar(ScalarMappable(norm=norm, cmap=cmap), cax=cax, extend='both',
                      extendfrac=0.13, drawedges=True, ticks=np.arange(len(ICE_LEVELS)))
    cb.ax.set_yticklabels(ICE_LABELS)
    cb.ax.tick_params(length=0, pad=1, labelsize=5.2)
    for lab in cb.ax.get_yticklabels():
        lab.set_fontweight('bold')
    cb.outline.set_linewidth(0.5)
    cb.outline.set_edgecolor('#707070')
    cb.dividers.set_color('#505860')
    cb.dividers.set_linewidth(0.7)


def draw_caption(fig):
    ''' first caption line is justified between the margins, word by word '''
    renderer = fig.canvas.get_renderer()
    size = 9.2
    x0, x1 = 11.0, 842.0
    arts = [fig.text(0, 0, w, fontsize=size, family='Liberation Serif', va='baseline') for w in CAPTION_1]
    widths = [a.get_window_extent(renderer).width if a.get_text() else 0 for a in arts]
    gap = (x1 - x0 - sum(widths)) / (len(arts) - 1)
    x = x0
    for a, w in zip(arts, widths):
        a.set_position((x / W, 1 - 888 / H))
        x += w + gap
    fig.text(x0 / W, 1 - 903 / H, CAPTION_2, fontsize=size, family='Liberation Serif', va='baseline')


#%%
fig = plt.figure(figsize=(W / 100, H / 100), dpi=100)
lefts = [83, 476]
tops = [38, 247, 455, 664]
for i, panel in enumerate(PANELS):
    draw_panel(fig, lefts[i % 2], tops[i // 2], panel)
draw_caption(fig)
fig.add_artist(plt.Rectangle((0, 0), 1, 2 / H, transform=fig.transFigure, facecolor='#eeeeee', edgecolor='none'))
fig.savefig('out.png', dpi=100)
